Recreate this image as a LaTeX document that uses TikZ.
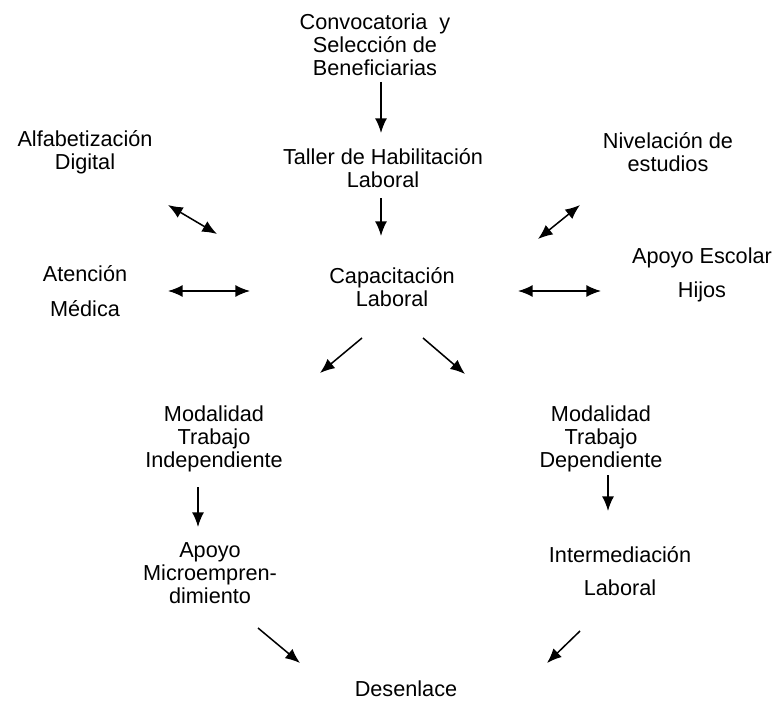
\documentclass[tikz,border=0pt]{standalone}
\usepackage{fontspec}
\setmainfont{Liberation Sans}
\usetikzlibrary{arrows.meta}

\begin{document}
\begin{tikzpicture}[x=0.03cm, y=-0.03cm,
  textnode/.style={align=center, inner sep=0pt, font=\fontsize{18.5}{19.6}\selectfont},
  oneway/.style={-{Latex[length=4.4mm,width=3.6mm]}, line width=1.3pt},
  twoway/.style={{Latex[length=4.4mm,width=3.6mm]}-{Latex[length=4.4mm,width=3.6mm]}, line width=1.3pt}]

        \useasboundingbox (0,0) rectangle (778,702);

        \node[textnode] (1) at (375,45) {Convocatoria~ y\\Selección de\\Beneficiarias};
        \node[textnode] (2) at (383,168) {Taller de Habilitación\\Laboral};
        \node[textnode] (3) at (392,287) {Capacitación\\Laboral};
        \node[textnode] (4) at (85,152) {Alfabetización\\Digital};
        \node[textnode] (5) at (668,152) {Nivelación de\\estudios};
        \node[textnode] (6) at (85,291) {Atención\\[10pt]Médica};
        \node[textnode] (7) at (702,275) {Apoyo Escolar\\[10pt]Hijos};
        \node[textnode] (8) at (214,439) {Modalidad\\Trabajo\\Independiente};
        \node[textnode] (9) at (210,573) {Apoyo\\Microempren-\\dimiento};
        \node[textnode] (10) at (601,439) {Modalidad\\Trabajo\\Dependiente};
        \node[textnode] (11) at (620,571) {Intermediación\\[8pt]Laboral};
        \node[textnode] (12) at (406,689) {Desenlace};

        % arrow ends
        \coordinate (a1) at (381,82);  \coordinate (b1) at (381,133);
        \coordinate (a2) at (381,198); \coordinate (b2) at (381,236);
        \coordinate (a3) at (168,205); \coordinate (b3) at (217,234);
        \coordinate (a4) at (580,205); \coordinate (b4) at (538,239);
        \coordinate (a5) at (168,291); \coordinate (b5) at (250,291);
        \coordinate (a6) at (518,291); \coordinate (b6) at (601,291);
        \coordinate (a7) at (362,338); \coordinate (b7) at (320,373);
        \coordinate (a8) at (423,338); \coordinate (b8) at (465,374);
        \coordinate (a9) at (198,487); \coordinate (b9) at (198,527);
        \coordinate (a10) at (608,475); \coordinate (b10) at (608,511);
        \coordinate (a11) at (258,628); \coordinate (b11) at (300,663);
        \coordinate (a12) at (580,631); \coordinate (b12) at (547,663);

        \draw[oneway] (a1) -- (b1);
        \draw[oneway] (a2) -- (b2);
        \draw[twoway] (a3) -- (b3);
        \draw[twoway] (a4) -- (b4);
        \draw[twoway] (a5) -- (b5);
        \draw[twoway] (a6) -- (b6);
        \draw[oneway] (a7) -- (b7);
        \draw[oneway] (a8) -- (b8);
        \draw[oneway] (a9) -- (b9);
        \draw[oneway] (a10) -- (b10);
        \draw[oneway] (a11) -- (b11);
        \draw[oneway] (a12) -- (b12);

\end{tikzpicture}
\end{document}
